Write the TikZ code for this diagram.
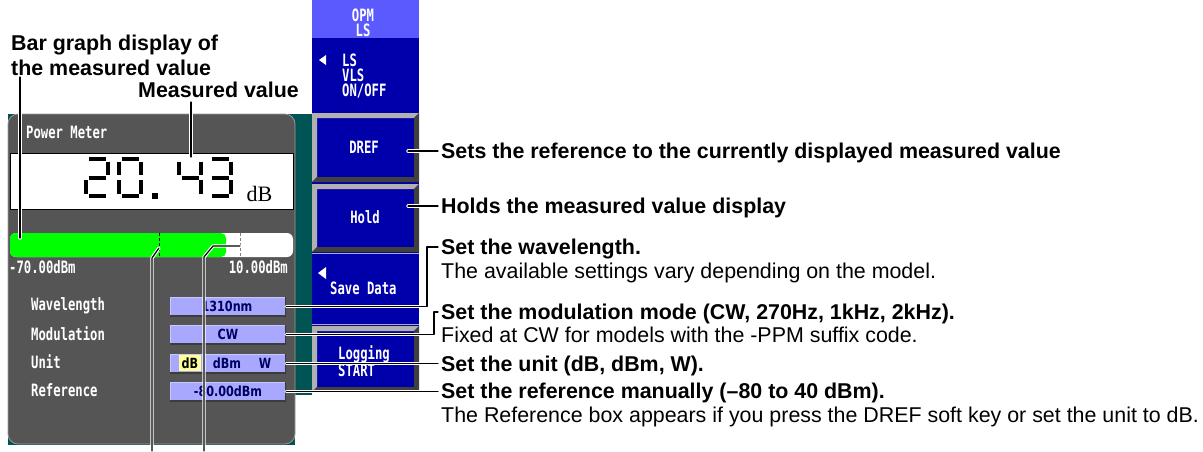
\documentclass[tikz,border=0pt]{standalone}
\usepackage{fontspec}
\setmainfont{Liberation Sans}
\newfontfamily\scrfont[FakeStretch=0.72]{DejaVu Sans Mono}
\newfontfamily\fldfont[FakeStretch=0.8]{DejaVu Sans}
\newfontfamily\serfont{Liberation Serif}

\definecolor{bgteal}{RGB}{0,84,84}
\definecolor{panelgrey}{RGB}{85,85,85}
\definecolor{bargreen}{RGB}{0,255,0}
\definecolor{fieldblue}{RGB}{168,168,255}
\definecolor{fieldnavy}{RGB}{0,0,100}
\definecolor{boxdark}{RGB}{60,60,60}
\definecolor{boxlight}{RGB}{200,200,255}
\definecolor{hiyellow}{RGB}{255,255,150}
\definecolor{keyblue}{RGB}{0,0,170}
\definecolor{keylight}{RGB}{90,90,255}
\definecolor{bevlight}{RGB}{176,176,176}
\definecolor{bevdark}{RGB}{64,64,64}

\tikzset{
  lead/.style={draw=black, line width=1.2pt, line cap=round, line join=round,
    preaction={draw=white, line width=3.4pt, line cap=round, line join=round}},
  scrtext/.style={font=\scrfont\bfseries\fontsize{17}{15}\selectfont, text=white, inner sep=0pt},
  keytext/.style={scrtext, align=left},
  fieldbox/.style={fill=fieldblue, minimum width=116pt, minimum height=19pt, inner sep=0pt,
    font=\fldfont\bfseries\fontsize{14}{14}\selectfont, text=fieldnavy,
    path picture={
      \draw[boxlight, line width=2pt] (path picture bounding box.south west) --
        (path picture bounding box.north west) -- (path picture bounding box.north east);
      \draw[boxdark, line width=3pt] (path picture bounding box.south west) --
        (path picture bounding box.south east) -- (path picture bounding box.north east);}},
  fieldtext/.style={inner sep=0pt, font=\fldfont\bfseries\fontsize{14}{14}\selectfont, text=fieldnavy},
  note/.style={font=\fontsize{21.4}{25}\selectfont, anchor=west, inner sep=0pt,
    text height=15pt, text depth=0pt},
  notebold/.style={note, font=\bfseries\fontsize{21.4}{25}\selectfont},
  caption/.style={font=\bfseries\fontsize{21.4}{25}\selectfont, anchor=base west, inner sep=0pt},
  seg/.style={line width=4pt, line cap=butt}
}

% raised soft key: light upper/left bevel, dark lower/right bevel
\newcommand\bevelkey[2]{%
  \fill[bevlight] (312,#1) -- (419,#1) -- (414,#1+5) -- (317,#1+5) -- (317,#2-5) -- (312,#2) -- cycle;
  \fill[bevdark] (419,#1) -- (419,#2) -- (312,#2) -- (317,#2-5) -- (414,#2-5) -- (414,#1+5) -- cycle;}

% seven-segment strokes in a 26 x 41 digit cell
\newcommand\sga{\draw[seg] (4.5,2) -- (21.5,2);}
\newcommand\sgb{\draw[seg] (24,4.5) -- (24,18);}
\newcommand\sgc{\draw[seg] (24,23) -- (24,36.5);}
\newcommand\sgd{\draw[seg] (4.5,39) -- (21.5,39);}
\newcommand\sge{\draw[seg] (2,23) -- (2,36.5);}
\newcommand\sgf{\draw[seg] (2,4.5) -- (2,18);}
\newcommand\sgg{\draw[seg] (4.5,20.5) -- (21.5,20.5);}

\begin{document}
\begin{tikzpicture}[x=1pt,y=-1pt]
\useasboundingbox (0,0) rectangle (1203,451);
\fill[white] (0,0) rectangle (1203,451);

% ---------- screen background and Power Meter dialog ----------
\fill[bgteal] (8,114) rectangle (295,445);
\fill[bgteal] (295,114) rectangle (312,395);
\draw[fill=panelgrey, draw=gray!80, line width=0.8pt, rounded corners=10pt] (8,114) rectangle (295,444);
\node[scrtext, anchor=west] (title) at (26,132) {Power Meter};

% measured value readout
\draw[fill=white, draw=black, line width=1pt] (10,153) rectangle (293,209);
\begin{scope}[shift={(84,157)}] \sga \sgb \sgg \sge \sgd \end{scope}
\begin{scope}[shift={(117,157)}] \sga \sgb \sgc \sgd \sge \sgf \end{scope}
\fill[black] (152,193) rectangle (158,199);
\begin{scope}[shift={(177,157)}] \sgf \sgg \sgb \sgc \end{scope}
\begin{scope}[shift={(207,157)}] \sga \sgb \sgg \sgc \sgd \end{scope}
\node[font=\serfont\fontsize{22}{22}\selectfont, anchor=base west, inner sep=0pt] (unitlbl) at (246.5,201) {dB};

% bar graph
\fill[white, rounded corners=6pt] (10,233) rectangle (293,257);
\fill[bargreen, rounded corners=5pt] (10,233) rectangle (226,257);
\draw[black, line width=1pt, dash pattern=on 3pt off 2pt] (159,233) -- (159,257);
\draw[gray, line width=1pt, dash pattern=on 3pt off 2pt] (240,233) -- (240,257);
\node[scrtext, anchor=west] (lo) at (9,267) {-70.00dBm};
\node[scrtext, anchor=east] (hi) at (288,267) {10.00dBm};

% settings
\node[scrtext, anchor=west] (lwl) at (31,306) {Wavelength};
\node[scrtext, anchor=west] (lmd) at (31,334) {Modulation};
\node[scrtext, anchor=west] (lun) at (31,362) {Unit};
\node[scrtext, anchor=west] (lrf) at (31,390) {Reference};

\node[fieldbox] (wlbox) at (228,306.5) {\hspace*{-2pt}1310nm};
\node[fieldbox] (mdbox) at (228,334.5) {CW};
\node[fieldbox] (unbox) at (228,363.5) {};
\node[fieldbox] (rfbox) at (228,391.5) {-80.00dBm};
\fill[hiyellow] (179,355) rectangle (201,371);
\node[fieldtext, text=black] (udb) at (190,363.5) {dB};
\node[fieldtext] (udbm) at (227,363.5) {dBm};
\node[fieldtext] (uw) at (265,363.5) {W};

% ---------- soft key column ----------
\fill[keylight] (312,0) rectangle (419,38);
\fill[keyblue] (312,38) rectangle (419,392);
\node[keytext, align=center, anchor=north] (kopm) at (363,9) {OPM\\LS};
\fill[white] (319,60) -- (326,55) -- (326,65) -- cycle;
\node[keytext, anchor=north west] (kls) at (342,54) {LS\\VLS\\ON/OFF};

\bevelkey{113}{182}
\node[keytext] (kdref) at (364,147) {DREF};
\bevelkey{184}{252}
\node[keytext] (khold) at (365,217) {Hold};
\draw[bevlight, line width=1pt] (312,253) -- (419,253);
\fill[white] (318,273) -- (326,267) -- (326,279) -- cycle;
\node[keytext, anchor=west] (ksave) at (330,288) {Save Data};
\draw[bevlight, line width=1pt] (312,324) -- (419,324);
\bevelkey{326}{392}
\node[keytext, anchor=north west] (klog) at (338,345) {Logging\\START};

% ---------- captions ----------
\node[caption] (cbar1) at (11,50) {Bar graph display of};
\node[caption] (cbar2) at (11,75) {the measured value};
\node[caption] (cmv) at (138,97) {Measured value};

\node[notebold] (tdref) at (441,151) {Sets the reference to the currently displayed measured value};
\node[notebold] (thold) at (441,206) {Holds the measured value display};
\node[notebold] (twl) at (441,247) {Set the wavelength.};
\node[note] (twl2) at (441,271) {The available settings vary depending on the model.};
\node[notebold] (tmd) at (441,312) {Set the modulation mode (CW, 270Hz, 1kHz, 2kHz).};
\node[note] (tmd2) at (441,335) {Fixed at CW for models with the -PPM suffix code.};
\node[notebold] (tun) at (441,364) {Set the unit (dB, dBm, W).};
\node[notebold] (trf) at (441,391) {Set the reference manually (–80 to 40 dBm).};
\node[note] (trf2) at (441,415) {The Reference box appears if you press the DREF soft key or set the unit to dB.};

% ---------- leader lines ----------
\coordinate (bartop) at (20,77);
\coordinate (barpt) at (20,238);
\coordinate (mvtop) at (191,102);
\coordinate (mvpt) at (191,157);
\coordinate (mka) at (159,248);
\coordinate (mkak) at (152,258);
\coordinate (mkaend) at (152,451);
\coordinate (mkb) at (240,246);
\coordinate (mkbk1) at (213,246);
\coordinate (mkbk2) at (204,257);
\coordinate (mkbend) at (204,451);
\coordinate (drefpt) at (408,151);
\coordinate (holdpt) at (408,206);
\coordinate (wlknee) at (427,247);
\coordinate (mdknee) at (434,312);

\draw[lead] (bartop) -- (barpt);
\draw[lead] (mvtop) -- (mvpt);
\draw[lead] (mka) -- (mkak) -- (mkaend);
\draw[lead] (mkb) -- (mkbk1) -- (mkbk2) -- (mkbend);

\draw[lead, shorten >=3pt] (drefpt) -- (tdref.west);
\draw[lead, shorten >=3pt] (holdpt) -- (thold.west);
\draw[lead, shorten >=3pt] (wlbox.east) -| (wlknee) -- (twl.west);
\draw[lead, shorten >=3pt] (mdbox.east) -| (mdknee) -- (tmd.west);
\draw[lead, shorten >=3pt] (unbox.east) -- (unbox.east -| tun.west);
\draw[lead, shorten >=3pt] (rfbox.east) -- (rfbox.east -| trf.west);
\end{tikzpicture}
\end{document}
